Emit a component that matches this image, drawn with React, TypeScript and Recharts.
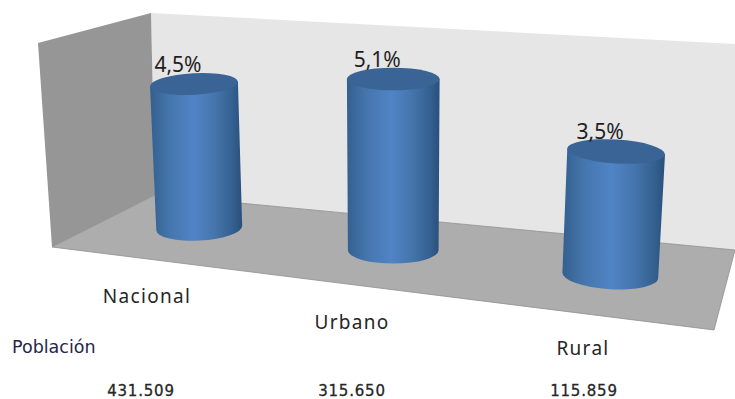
import * as React from 'react';
import { BarChart, Bar, XAxis, YAxis, Customized, LabelList } from 'recharts';

const categories = ['Nacional', 'Urbano', 'Rural'];
const rates = [4.5, 5.1, 3.5];
const population = ['431.509', '315.650', '115.859'];

const rows = categories.map((name, i) => ({ name, rate: rates[i], population: population[i] }));

// shift of each axis caption away from its band centre
const captionShift = [-52, -52.5, -27];
const popShift = [-58, -52.5, -26];

const SIDE_WALL = '#969696';
const BACK_WALL = '#e6e6e6';
const FLOOR = '#adadad';
const CAP = '#3a6496';

// the plot is 180px tall over a 0-6 domain
const UNIT_PX = 30;

// Fake perspective: takes a flat bar from the band scale and puts it on the sloped floor
function project(x: number, width: number, height: number) {
  const u = x + width / 2;
  const t = (u - 404.5) / 205.5;
  const baseX = u - 11.5 * (1 - t * t);
  const baseY = 228 + (baseX - 199) * 0.115;
  const depth = (32 + (baseX - 199) * 0.0082) / UNIT_PX;
  const lean = (baseX - 393) * 0.027;
  const topX = baseX + lean;
  const topY = baseY - height * depth;
  const grow = 1 + (baseX - 199) * 0.00028;
  const rx = (width / 2) * grow;
  const tilt = (baseX - 393) * 0.016;
  return { baseX, baseY, topX, topY, rx, tilt };
}

function Cylinder(props: any) {
  const { x, width, height } = props;
  const { baseX, baseY, topX, topY, rx, tilt } = project(x, width, height);
  const rad = (tilt * Math.PI) / 180;
  const dx = Math.cos(rad);
  const dy = Math.sin(rad);
  const topRx = rx + 1;
  const topRy = rx * 0.25;
  const baseRy = rx * 0.29;
  const body = [
    `M${topX - topRx * dx} ${topY - topRx * dy}`,
    `L${baseX - rx * dx} ${baseY - rx * dy}`,
    `A${rx} ${baseRy} ${tilt} 0 0 ${baseX + rx * dx} ${baseY + rx * dy}`,
    `L${topX + topRx * dx} ${topY + topRx * dy}`,
    'Z',
  ].join(' ');
  return (
    <g>
      <path d={body} fill="url(#cylinderBody)" />
      <ellipse
        cx={topX}
        cy={topY}
        rx={topRx}
        ry={topRy}
        fill={CAP}
        transform={`rotate(${tilt} ${topX} ${topY})`}
      />
    </g>
  );
}

function RateLabel(props: any) {
  const { x, width, height, value } = props;
  const { topX, topY } = project(x, width, Math.abs(height));
  return (
    <text
      x={topX - 16}
      y={topY - 12.5}
      textAnchor="middle"
      fontFamily="Noto Sans"
      fontSize={21}
      fill="#1f1f1f"
    >
      {value.toFixed(1).replace('.', ',')}%
    </text>
  );
}

function Room() {
  return (
    <g>
      <defs>
        <linearGradient id="cylinderBody" x1="0" y1="0" x2="1" y2="0">
          <stop offset="0%" stopColor="#33608f" />
          <stop offset="22%" stopColor="#4676ae" />
          <stop offset="48%" stopColor="#5084c6" />
          <stop offset="70%" stopColor="#4675ad" />
          <stop offset="90%" stopColor="#33608f" />
          <stop offset="100%" stopColor="#2a4f7c" />
        </linearGradient>
      </defs>
      <polygon points="151,13 735,44 735,250 155,195" fill={BACK_WALL} />
      <polygon points="38,43 151,13 155,195 52,247" fill={SIDE_WALL} />
      <polygon points="155,195 735,250 714,330 52,247" fill={FLOOR} stroke="#8f8f8f" strokeWidth={0.8} />
      <text x={12} y={353} fontFamily="DejaVu Sans" fontSize={17.5} fill="#26264a">
        Población
      </text>
    </g>
  );
}

function CategoryTick(props: any) {
  const { x, index, payload } = props;
  return (
    <text
      x={x + captionShift[index]}
      y={303 + index * 26}
      textAnchor="middle"
      fontFamily="Noto Sans"
      fontSize={19}
      letterSpacing={1.3}
      fill="#262626"
    >
      {payload.value}
    </text>
  );
}

function PopulationTick(props: any) {
  const { x, index, payload } = props;
  return (
    <text
      x={x + popShift[index]}
      y={396}
      textAnchor="middle"
      fontFamily="DejaVu Sans"
      fontSize={15}
      letterSpacing={0.8}
      stroke="#262626"
      strokeWidth={0.3}
      fill="#262626"
    >
      {payload.value}
    </text>
  );
}

export default function App() {
  return (
    <div style={{ position: 'absolute', left: 0, top: 0, width: 735, height: 399, background: '#fff' }}>
      <BarChart
        width={735}
        height={399}
        data={rows}
        barSize={86}
        margin={{ top: 20, right: 22.25, bottom: 197, left: 96.25 }}
      >
        <Customized component={Room} />
        <YAxis hide domain={[0, 6]} />
        <XAxis
          dataKey="name"
          xAxisId="cat"
          height={1}
          axisLine={false}
          tickLine={false}
          interval={0}
          tick={CategoryTick}
        />
        <XAxis
          dataKey="population"
          xAxisId="pop"
          height={1}
          axisLine={false}
          tickLine={false}
          interval={0}
          tick={PopulationTick}
        />
        <Bar dataKey="rate" xAxisId="cat" shape={Cylinder} isAnimationActive={false}>
          <LabelList dataKey="rate" content={RateLabel} />
        </Bar>
      </BarChart>
    </div>
  );
}
